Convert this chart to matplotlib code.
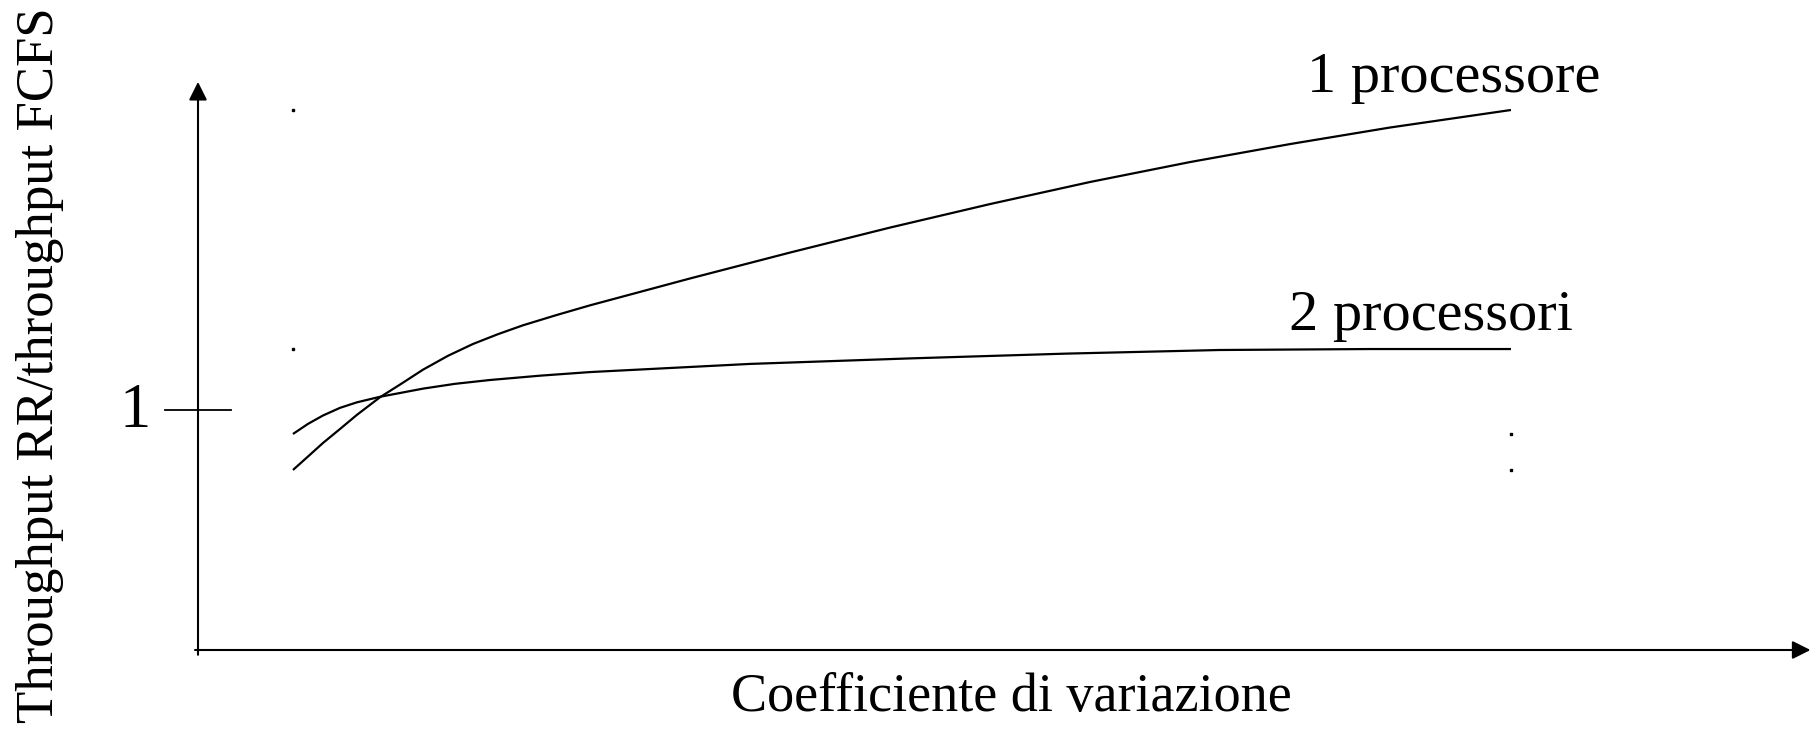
import matplotlib
matplotlib.use("Agg")
import matplotlib.pyplot as plt

plt.rcParams['font.family'] = ['Liberation Serif', 'DejaVu Serif']

# coefficiente di variazione (arbitrary units)
cv = [0.633, 0.733, 0.833, 0.947, 1.06, 1.213, 1.347, 1.50, 1.667, 1.833,
      2.0, 2.167, 2.387, 2.613, 3.28, 3.947, 4.613, 5.28, 5.947, 6.613,
      7.28, 7.947, 8.753]
# throughput RR / throughput FCFS, 1 processore
one_proc = [0.750, 0.806, 0.8625, 0.921, 0.980, 1.053, 1.106, 1.168, 1.226, 1.275,
            1.316, 1.353, 1.395, 1.436, 1.548, 1.656, 1.760, 1.858, 1.950, 2.033,
            2.108, 2.177, 2.25]

cv2 = [0.633, 0.733, 0.833, 0.947, 1.06, 1.213, 1.50, 1.713, 1.947, 2.28,
       2.613, 3.68, 4.747, 5.793, 6.813, 7.813, 8.753]
# 2 processori
two_proc = [0.90, 0.942, 0.977, 1.009, 1.032, 1.055, 1.089, 1.109, 1.125, 1.143,
            1.158, 1.192, 1.215, 1.235, 1.25, 1.254, 1.254]

ref_value = 1.0
ref_label = '1'

fig = plt.figure(figsize=(18.12, 7.31), dpi=100)
ax = fig.add_axes([0, 0, 1, 1])
ax.set_xlim(-1.32, 10.76)
ax.set_ylim(-0.3375, 2.7083)
ax.axis('off')

# axes drawn as arrows, like the original slide
arrow = dict(arrowstyle='-|>,head_length=0.5,head_width=0.25', mutation_scale=22,
             lw=1.5, color='black', shrinkA=0, shrinkB=0)
ax.annotate('', xy=(0, 2.367), xytext=(0, -0.02), arrowprops=arrow)
ax.annotate('', xy=(10.75, 0), xytext=(-0.02, 0), arrowprops=arrow)

# tick at 1
ax.plot([-0.22, 0.22], [ref_value, ref_value], color='black', lw=1.3)
ax.text(-0.42, ref_value - 0.071, ref_label, fontsize=45, ha='center', va='baseline')

ax.plot(cv, one_proc, color='black', lw=1.6, solid_capstyle='butt', solid_joinstyle='round')
ax.plot(cv2, two_proc, color='black', lw=1.6, solid_capstyle='butt', solid_joinstyle='round')

# tiny stray dots at the corners of the curves' bounding boxes
ax.plot([cv[0], cv2[0]], [one_proc[-1], two_proc[-1]], 's', color='black', ms=1.5)
ax.plot([cv[-1], cv2[-1]], [two_proc[0], one_proc[0]], 's', color='black', ms=1.5)

ax.text(8.373, 2.325, '1 processore', fontsize=42, ha='center', va='baseline')
ax.text(8.22, 1.333, '2 processori', fontsize=42, ha='center', va='baseline')
ax.text(5.42, -0.254, 'Coefficiente di variazione', fontsize=39, ha='center', va='baseline')
ax.text(-1.053, 1.1875, 'Throughput RR/throughput FCFS', fontsize=38,
        rotation=90, ha='center', va='center')

fig.savefig('out.png', dpi=100)
